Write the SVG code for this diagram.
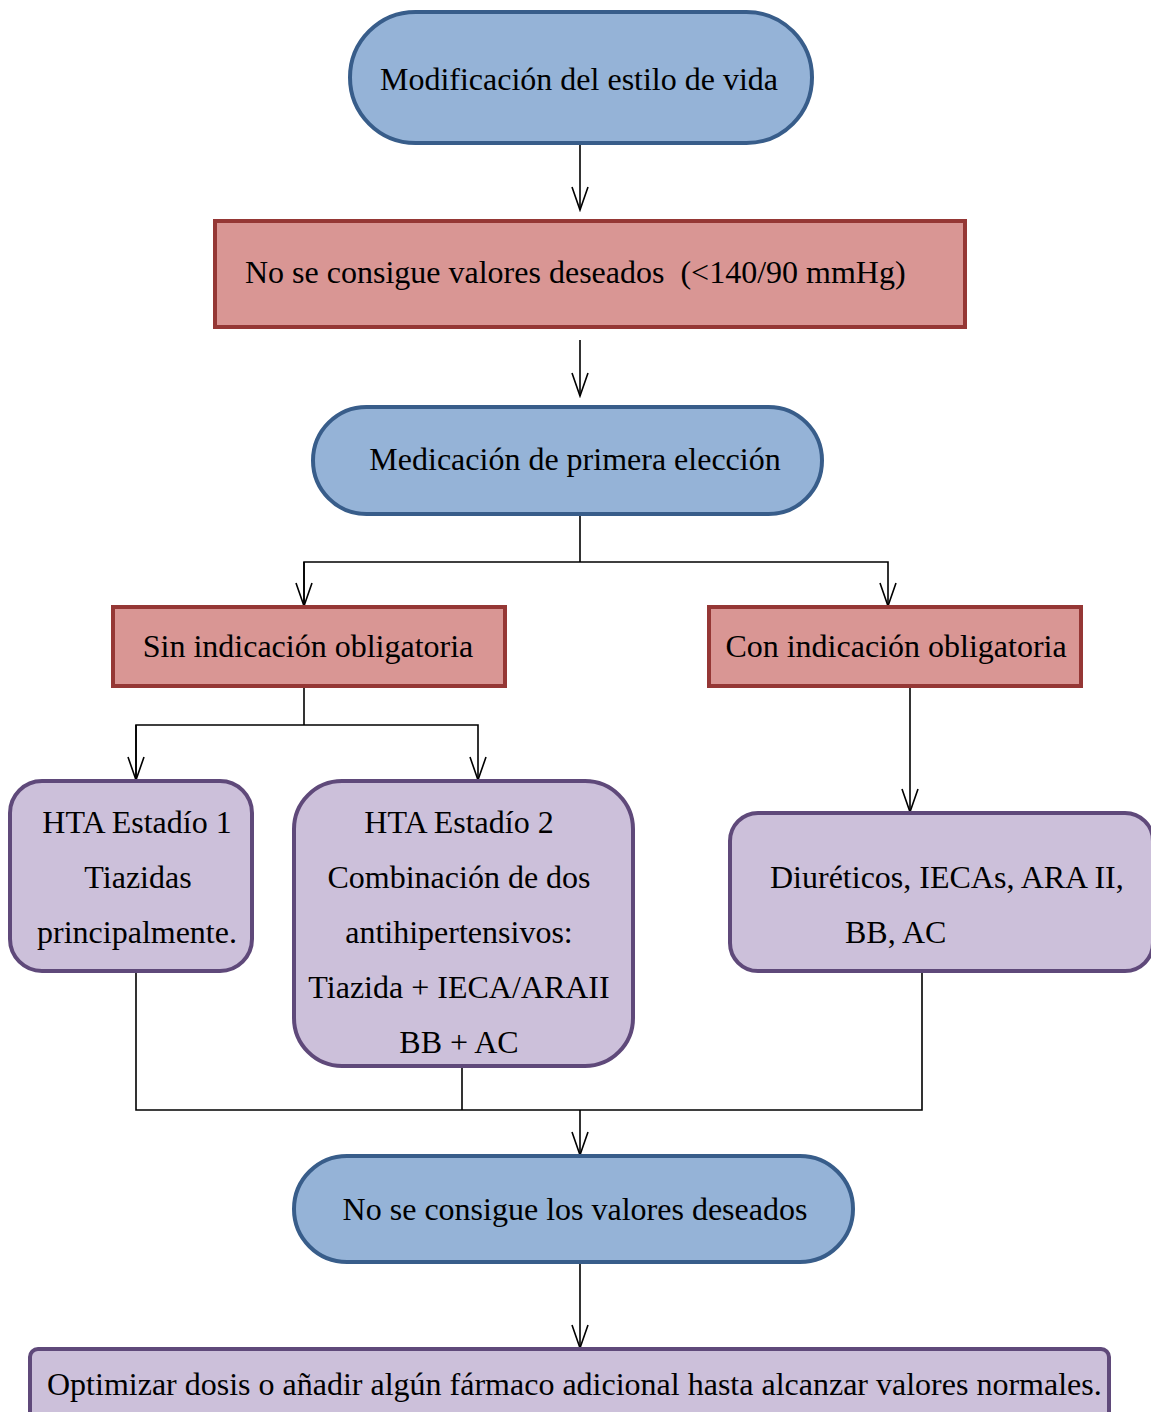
<svg xmlns="http://www.w3.org/2000/svg" width="1151" height="1412" viewBox="0 0 1151 1412">
<style>
text{font-family:"Liberation Serif","Times New Roman",serif;font-size:32px;fill:#000}
.blue{fill:#95b3d7;stroke:#385d8a;stroke-width:4}
.red{fill:#d99694;stroke:#953735;stroke-width:4}
.purple{fill:#ccc0da;stroke:#5f497a;stroke-width:4}
.c{text-anchor:middle}
#connectors line,#connectors polyline{stroke:#000;stroke-width:1.6;fill:none}
</style>
<defs>
<marker id="arr" markerUnits="userSpaceOnUse" markerWidth="26" markerHeight="20" refX="24" refY="9" orient="auto">
<path d="M1,1 L24,9 L1,17" fill="none" stroke="#000" stroke-width="1.6"/>
</marker>
</defs>
<rect width="1151" height="1412" fill="#fff"/>
<g id="connectors">
<line x1="580" y1="143" x2="580" y2="210" marker-end="url(#arr)"/>
<line x1="580" y1="340" x2="580" y2="396" marker-end="url(#arr)"/>
<polyline points="580,514 580,562"/>
<polyline points="304,606 304,562 888,562 888,606" marker-end="url(#arr)"/>
<line x1="304" y1="562" x2="304" y2="606" marker-end="url(#arr)"/>
<polyline points="304,686 304,725"/>
<polyline points="136,780 136,725 478,725 478,780" marker-end="url(#arr)"/>
<line x1="136" y1="725" x2="136" y2="780" marker-end="url(#arr)"/>
<line x1="910" y1="686" x2="910" y2="812" marker-end="url(#arr)"/>
<polyline points="136,971 136,1110 922,1110 922,971"/>
<line x1="462" y1="1066" x2="462" y2="1110"/>
<line x1="580" y1="1110" x2="580" y2="1155" marker-end="url(#arr)"/>
<line x1="580" y1="1262" x2="580" y2="1348" marker-end="url(#arr)"/>
</g>
<g id="n1"><rect class="blue" x="350" y="12" width="462" height="131" rx="65.5"/><text class="c" x="579" y="90">Modificación del estilo de vida</text></g>
<g id="n2"><rect class="red" x="215" y="221" width="750" height="106"/><text x="245" y="283" xml:space="preserve">No se consigue valores deseados  (&lt;140/90 mmHg)</text></g>
<g id="n3"><rect class="blue" x="313" y="407" width="509" height="107" rx="53.5"/><text class="c" x="575" y="470">Medicación de primera elección</text></g>
<g id="n4"><rect class="red" x="113" y="607" width="392" height="79"/><text class="c" x="308" y="657">Sin indicación obligatoria</text></g>
<g id="n5"><rect class="red" x="709" y="607" width="372" height="79"/><text class="c" x="896" y="657">Con indicación obligatoria</text></g>
<g id="n6"><rect class="purple" x="10" y="781" width="242" height="190" rx="32"/><text class="c" x="137" y="833">HTA Estadío 1</text><text class="c" x="138" y="888">Tiazidas</text><text class="c" x="137" y="943">principalmente.</text></g>
<g id="n7"><rect class="purple" x="294" y="781" width="339" height="285" rx="48"/><text class="c" x="459" y="833">HTA Estadío 2</text><text class="c" x="459" y="888">Combinación de dos</text><text class="c" x="459" y="943">antihipertensivos:</text><text class="c" x="459" y="998">Tiazida + IECA/ARAII</text><text class="c" x="459" y="1053">BB + AC</text></g>
<g id="n8"><rect class="purple" x="730" y="813" width="423" height="158" rx="28"/><text x="770" y="888">Diuréticos, IECAs, ARA II,</text><text x="845" y="943">BB, AC</text></g>
<g id="n9"><rect class="blue" x="294" y="1156" width="559" height="106" rx="53"/><text class="c" x="575" y="1220">No se consigue los valores deseados</text></g>
<g id="n10"><rect class="purple" x="30" y="1349" width="1079" height="80" rx="8"/><text x="47" y="1395">Optimizar dosis o añadir algún fármaco adicional hasta alcanzar valores normales.</text></g>
</svg>
